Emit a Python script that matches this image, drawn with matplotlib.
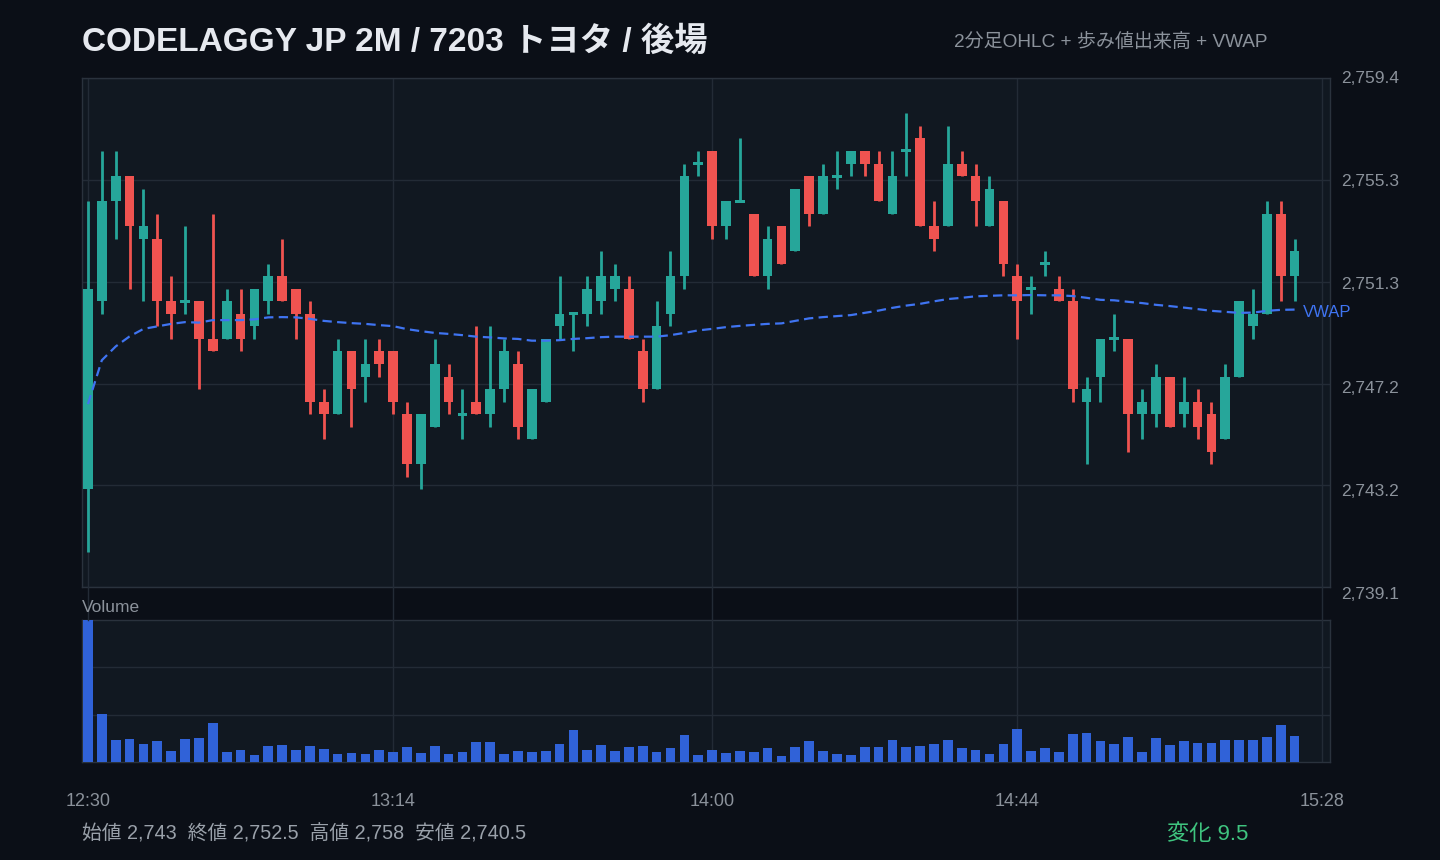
import matplotlib
matplotlib.use('Agg')
import matplotlib.pyplot as plt
from matplotlib.patches import Rectangle
from matplotlib.lines import Line2D
import matplotlib.transforms as mtransforms

plt.rcParams['font.family'] = ['Liberation Sans', 'Noto Sans CJK JP', 'DejaVu Sans']

title = "CODELAGGY JP 2M / 7203 トヨタ / 後場"
subtitle = "2分足OHLC + 歩み値出来高 + VWAP"
time_ticks = [0, 22, 45, 67, 89]
time_labels = ["12:30", "13:14", "14:00", "14:44", "15:28"]

opens = [2743, 2750.5, 2754.5, 2755.5, 2753, 2753, 2750.5, 2750.5, 2750.5, 2749,
         2749, 2750, 2749.5, 2750.5, 2751.5, 2751, 2750, 2746.5, 2746, 2748.5,
         2747.5, 2748.5, 2748.5, 2746, 2744, 2745.5, 2747.5, 2746, 2746.5, 2746,
         2747, 2748, 2745, 2746.5, 2749.5, 2750, 2750, 2750.5, 2751, 2751,
         2748.5, 2747, 2750, 2751.5, 2756, 2756.5, 2753.5, 2754.5, 2754, 2751.5,
         2753.5, 2752.5, 2755.5, 2754, 2755.5, 2756, 2756.5, 2756, 2754, 2756.5,
         2757, 2753.5, 2753.5, 2756, 2755.5, 2753.5, 2754.5, 2751.5, 2751, 2752,
         2751, 2750.5, 2746.5, 2747.5, 2749, 2749, 2746, 2746, 2747.5, 2746,
         2746.5, 2746, 2745, 2747.5, 2749.5, 2750, 2754, 2751.5]
highs = [2754.5, 2756.5, 2756.5, 2755.5, 2755, 2754, 2751.5, 2753.5, 2750.5, 2754,
         2751, 2751, 2751, 2752, 2753, 2751, 2750.5, 2747, 2749, 2748.5,
         2749, 2749, 2748.5, 2746.5, 2746, 2749, 2748, 2747, 2749.5, 2749.5,
         2749, 2748.5, 2747, 2749, 2751.5, 2750, 2751.5, 2752.5, 2752, 2751.5,
         2749, 2750.5, 2752.5, 2756, 2756.5, 2756.5, 2754.5, 2757, 2754, 2753.5,
         2753.5, 2755, 2755.5, 2756, 2756.5, 2756.5, 2756.5, 2756.5, 2756.5, 2758,
         2757.5, 2754.5, 2757.5, 2756.5, 2756, 2755.5, 2754.5, 2752, 2751.5, 2752.5,
         2751.5, 2751, 2747.5, 2749, 2750, 2749, 2747, 2748, 2747.5, 2747.5,
         2747, 2746.5, 2748, 2750.5, 2751, 2754.5, 2754.5, 2753]
lows = [2740.5, 2750, 2753, 2751, 2750.5, 2749.5, 2749, 2750, 2747, 2748.5,
        2749, 2748.5, 2749, 2750, 2750.5, 2749, 2746, 2745, 2746, 2745.5,
        2746.5, 2747.5, 2746, 2743.5, 2743, 2745.5, 2746, 2745, 2746, 2745.5,
        2746.5, 2745, 2745, 2746.5, 2749, 2748.5, 2749.5, 2750, 2750.5, 2749,
        2746.5, 2747, 2749.5, 2751, 2755.5, 2753, 2753, 2754.5, 2751.5, 2751,
        2752, 2752.5, 2753.5, 2754, 2755, 2755.5, 2755.5, 2754.5, 2754, 2755.5,
        2753.5, 2752.5, 2753.5, 2755.5, 2753.5, 2753.5, 2751.5, 2749, 2750, 2751.5,
        2750.5, 2746.5, 2744, 2746.5, 2748.5, 2744.5, 2745, 2745.5, 2745.5, 2745.5,
        2745, 2744, 2745, 2747.5, 2749, 2750, 2750.5, 2750.5]
closes = [2751, 2754.5, 2755.5, 2753.5, 2753.5, 2750.5, 2750, 2750.5, 2749, 2748.5,
          2750.5, 2749, 2751, 2751.5, 2750.5, 2750, 2746.5, 2746, 2748.5, 2747,
          2748, 2748, 2746.5, 2744, 2746, 2748, 2746.5, 2746, 2746, 2747,
          2748.5, 2745.5, 2747, 2749, 2750, 2750, 2751, 2751.5, 2751.5, 2749,
          2747, 2749.5, 2751.5, 2755.5, 2756, 2753.5, 2754.5, 2754.5, 2751.5, 2753,
          2752, 2755, 2754, 2755.5, 2755.5, 2756.5, 2756, 2754.5, 2755.5, 2756.5,
          2753.5, 2753, 2756, 2755.5, 2754.5, 2755, 2752, 2750.5, 2751, 2752,
          2750.5, 2747, 2747, 2749, 2749, 2746, 2746.5, 2747.5, 2745.5, 2746.5,
          2745.5, 2744.5, 2747.5, 2750.5, 2750, 2754, 2751.5, 2752.5]
volumes = [427, 145, 67, 70, 55, 64, 34, 70, 73, 118,
           31, 37, 22, 49, 52, 37, 49, 40, 25, 28,
           25, 37, 31, 46, 28, 49, 25, 31, 61, 61,
           25, 34, 31, 34, 55, 97, 37, 52, 34, 46,
           49, 31, 43, 82, 22, 37, 28, 34, 31, 43,
           19, 46, 64, 34, 25, 22, 46, 46, 67, 46,
           49, 55, 67, 43, 37, 25, 55, 100, 34, 43,
           31, 85, 88, 64, 55, 76, 31, 73, 52, 64,
           58, 58, 67, 67, 67, 76, 112, 79]
vwap = [2746.4, 2748.15, 2748.7, 2749.1, 2749.4, 2749.5, 2749.6, 2749.67, 2749.65, 2749.75,
        2749.75, 2749.75, 2749.78, 2749.86, 2749.87, 2749.86, 2749.8, 2749.72, 2749.67, 2749.63,
        2749.6, 2749.55, 2749.51, 2749.39, 2749.31, 2749.24, 2749.2, 2749.15, 2749.09, 2749.06,
        2749.02, 2749.0, 2748.93, 2748.93, 2748.95, 2749.0, 2749.03, 2749.07, 2749.09, 2749.09,
        2749.09, 2749.09, 2749.15, 2749.24, 2749.34, 2749.4, 2749.47, 2749.52, 2749.56, 2749.6,
        2749.62, 2749.72, 2749.82, 2749.87, 2749.91, 2749.95, 2750.04, 2750.13, 2750.24, 2750.33,
        2750.4, 2750.5, 2750.59, 2750.64, 2750.7, 2750.72, 2750.74, 2750.74, 2750.75, 2750.74,
        2750.74, 2750.71, 2750.64, 2750.56, 2750.54, 2750.48, 2750.43, 2750.36, 2750.31, 2750.25,
        2750.19, 2750.12, 2750.08, 2750.04, 2750.05, 2750.12, 2750.16, 2750.17]

# ---- style ----
FIG_BG = '#0b0f17'
AX_BG = '#111821'
GRID = '#232b36'
BORDER = '#2a323d'
UP = '#26a69a'
DOWN = '#ef5350'
VOL = '#3062d8'
VWAP_C = '#3f74f2'
TICK_C = '#8b929b'

W, H = 1440, 860
fig = plt.figure(figsize=(W / 100, H / 100), dpi=100, facecolor=FIG_BG)

def fx(px):
    return px / W

def fy(py):
    return 1 - py / H

L, R = 82, 1330
P_TOP, P_BOT = 78.3, 587
V_TOP, V_BOT = 620, 762

axp = fig.add_axes([fx(L), fy(P_BOT), fx(R - L), fy(P_TOP) - fy(P_BOT)])
axv = fig.add_axes([fx(L), fy(V_BOT), fx(R - L), fy(V_TOP) - fy(V_BOT)], sharex=axp)

n = len(opens)
xs = list(range(n))
lo_all, hi_all = min(lows), max(highs)
pad = (hi_all - lo_all) * 0.08
ymin, ymax = lo_all - pad, hi_all + pad

for ax in (axp, axv):
    ax.set_facecolor(AX_BG)
    for s in ax.spines.values():
        s.set_color(BORDER)
        s.set_linewidth(1)
    ax.tick_params(length=0)
    ax.set_axisbelow(True)

axp.set_xlim(-0.43, 89.55)
axp.set_ylim(ymin, ymax)
yt = [ymin + i * (ymax - ymin) / 5 for i in range(6)]
axp.set_yticks(yt)
axp.set_yticklabels([f"{v:,.1f}" for v in yt])
axp.yaxis.tick_right()
axp.tick_params(axis='y', colors=TICK_C, labelsize=12.5, pad=8)
# the price labels sit on a slightly taller scale than the grid
for i, lab in enumerate(axp.get_yticklabels()):
    d = 6.0 - 7.3 * i / 5
    lab.set_transform(lab.get_transform() + mtransforms.Affine2D().translate(0, -d))
axp.set_xticks(time_ticks)
axp.tick_params(axis='x', labelbottom=False)
axp.grid(True, color=GRID, linewidth=1)

bw = 0.7
for i in xs:
    o, h, l, c = opens[i], highs[i], lows[i], closes[i]
    col = UP if c >= o else DOWN
    axp.add_line(Line2D([i, i], [l, h], color=col, linewidth=2.0, solid_capstyle='butt', zorder=3))
    b0 = min(o, c)
    bh = max(abs(c - o), 0.12)
    if abs(c - o) < 0.12:
        b0 = o - 0.06
    axp.add_patch(Rectangle((i - bw / 2, b0), bw, bh, facecolor=col, edgecolor='none', zorder=4))

axp.plot(xs, vwap, color=VWAP_C, linewidth=1.6, linestyle=(0, (4.2, 2.4)), zorder=5)
axp.text(n - 1 + 0.6, vwap[-1], "VWAP", color=VWAP_C, fontsize=12, va='center', ha='left',
         clip_on=False,
         transform=axp.transData + mtransforms.Affine2D().translate(0, -3))

# volume
axv.bar(xs, volumes, width=bw, color=VOL, zorder=3)
axv.set_ylim(0, max(volumes))
axv.set_yticks([max(volumes) / 3, max(volumes) * 2 / 3])
axv.tick_params(axis='y', labelright=False, labelleft=False)
axv.set_xticks(time_ticks)
axv.set_xticklabels(time_labels)
axv.tick_params(axis='x', colors=TICK_C, labelsize=13, pad=22.5)
axv.grid(True, color=GRID, linewidth=1)

# vertical grid continuation in the gap between panels
trans = mtransforms.blended_transform_factory(axp.transData, fig.transFigure)
for t in time_ticks:
    fig.add_artist(Line2D([t, t], [fy(V_TOP), fy(P_BOT)], transform=trans, color=GRID, linewidth=1))

fig.text(fx(82), fy(607), "Volume", color=TICK_C, fontsize=12.5, va='center', ha='left')

# titles
fig.text(fx(82), fy(42), title, color='#e6e9ef', fontsize=24, fontweight='bold',
         va='center', ha='left')
fig.text(fx(1268), fy(41.5), subtitle, color=TICK_C, fontsize=13.7, va='center', ha='right')

def fmt(v):
    return f"{int(v):,}" if float(v).is_integer() else f"{v:,.1f}"

stats = (f"始値 {fmt(opens[0])}  終値 {fmt(closes[-1])}  "
         f"高値 {fmt(max(highs))}  安値 {fmt(min(lows))}")
fig.text(fx(82), fy(834), stats, color='#9aa1aa', fontsize=14.2, va='center', ha='left')
chg = closes[-1] - opens[0]
fig.text(fx(1248), fy(834), f"変化 {fmt(chg)}", color='#3fc47f', fontsize=16, va='center', ha='right')

fig.savefig('out.png', dpi=100, facecolor=FIG_BG)
